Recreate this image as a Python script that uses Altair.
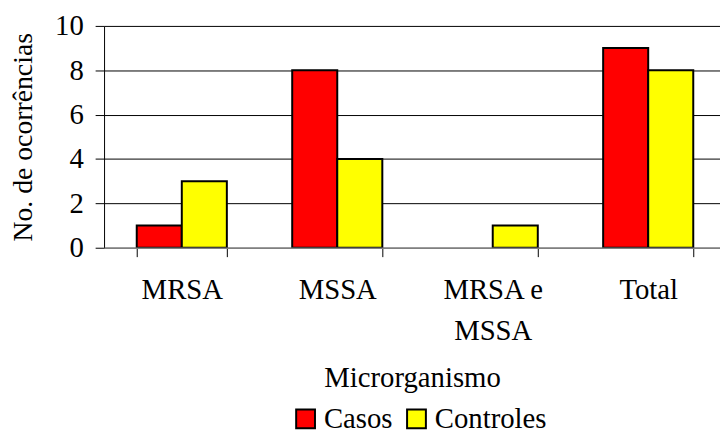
import altair as alt
import pandas as pd

categories = ["MRSA", "MSSA", "MRSA e MSSA", "Total"]
series = ["Casos", "Controles"]
casos = [1, 8, 0, 9]
controles = [3, 4, 1, 8]
colors = ["#FF0000", "#FFFF00"]

rows = []
for c, a, b in zip(categories, casos, controles):
    rows.append({"cat": c, "serie": series[0], "value": a})
    rows.append({"cat": c, "serie": series[1], "value": b})
df = pd.DataFrame(rows)

FONT = "Liberation Serif"
FS = 29

chart = (
    alt.Chart(df)
    .transform_filter("datum.value > 0")
    .mark_bar(stroke="black", strokeWidth=2)
    .encode(
        x=alt.X(
            "cat:N",
            sort=categories,
            scale=alt.Scale(paddingInner=0.4204, paddingOuter=0.1911, align=0.55),
            axis=alt.Axis(
                title="Microrganismo",
                labelAngle=0,
                labelExpr="datum.label == 'MRSA e MSSA' ? ['MRSA e', 'MSSA'] : datum.label",
                labelLineHeight=42,
                labelPadding=19,
                tickBand="extent",
                tickSize=9,
                tickColor="black",
                domainColor="#808080",
                domainWidth=1.5,
                titlePadding=18,
                zindex=1,
            ),
        ),
        xOffset=alt.XOffset("serie:N", sort=series, scale=alt.Scale(paddingInner=0, paddingOuter=0)),
        y=alt.Y(
            "value:Q",
            scale=alt.Scale(domain=[0, 10], nice=False),
            axis=alt.Axis(
                title="No. de ocorrências",
                values=[0, 2, 4, 6, 8, 10],
                tickSize=9,
                tickColor="black",
                domainColor="black",
                gridColor="black",
                gridWidth=1,
                labelPadding=12,
                titlePadding=17,
                titleFontSize=28,
            ),
        ),
        fill=alt.Fill(
            "serie:N",
            sort=series,
            scale=alt.Scale(domain=series, range=colors),
            legend=alt.Legend(
                title=None,
                orient="none",
                legendX=189,
                legendY=382,
                direction="horizontal",
                symbolType="square",
                symbolSize=361,
                symbolStrokeColor="black",
                symbolStrokeWidth=2,
                symbolOpacity=1,
                labelFontSize=FS,
                labelFont=FONT,
                labelColor="black",
                labelOffset=4,
                columnPadding=9,
                padding=0,
            ),
        ),
    )
    .properties(
        width=622,
        height=224,
        autosize=alt.AutoSizeParams(type="none"),
        padding={"left": 97, "top": 16, "right": 0, "bottom": 185},
    )
    .configure_view(stroke=None)
    .configure_axis(
        labelFont=FONT,
        titleFont=FONT,
        labelFontSize=FS,
        titleFontSize=FS,
        titleFontWeight="normal",
        labelColor="black",
        titleColor="black",
    )
)

chart.save("out.html", embed_options={"renderer": "svg", "actions": False})
